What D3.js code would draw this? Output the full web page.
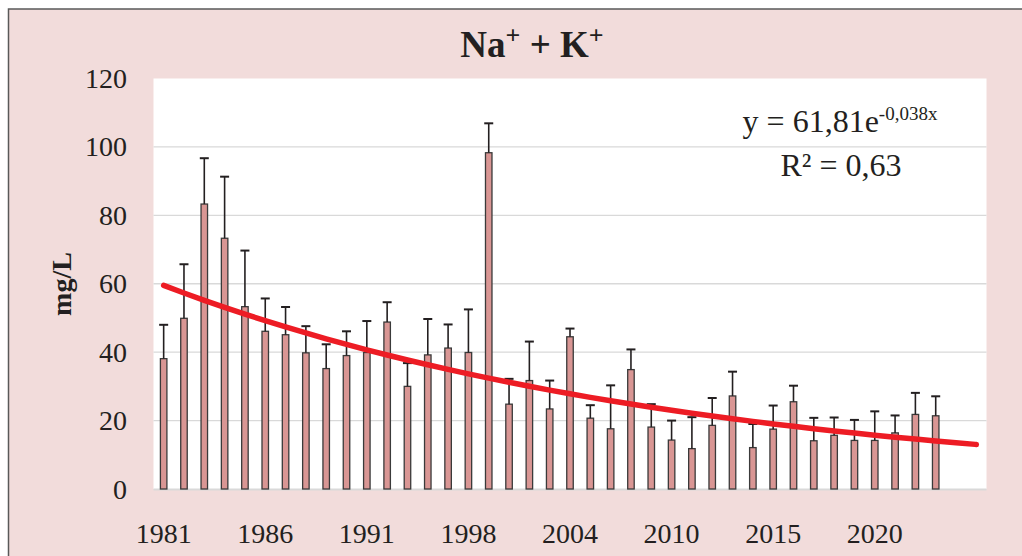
<!DOCTYPE html>
<html>
<head>
<meta charset="utf-8">
<script src="https://cdn.jsdelivr.net/npm/d3@7/dist/d3.min.js"></script>
<style>
  html, body { margin: 0; padding: 0; background: #ffffff; }
  svg { display: block; }
  text { font-family: "Liberation Serif", "Times New Roman", serif; fill: #231f20; }
</style>
</head>
<body>
<svg id="chart" width="1022" height="556"></svg>
<script>
// ---- data ----
const years = [
  "1981","1982","1983","1984","1985","1986","1987","1988","1989","1990",
  "1991","1992","1993","1995","1997","1998","1999","2000","2001","2002",
  "2004","2005","2006","2007","2008","2010","2011","2012","2013","2014",
  "2015","2016","2017","2018","2019","2020","2021","2022","2023","2024","2025"
];
const tickLabels = ["1981","1986","1991","1998","2004","2010","2015","2020"];
const meanValues = [
  38.1, 49.9, 83.3, 73.3, 53.3, 46.1, 45.1, 39.8, 35.2, 39.0,
  39.9, 48.8, 30.0, 39.2, 41.2, 39.9, 98.3, 24.8, 31.7, 23.4,
  44.5, 20.7, 17.6, 34.9, 18.1, 14.3, 11.8, 18.6, 27.2, 12.1,
  17.5, 25.5, 14.1, 15.7, 14.2, 14.2, 16.4, 21.8, 21.4, null, null
];
const upperValues = [
  48.0, 65.7, 96.7, 91.3, 69.7, 55.7, 53.2, 47.6, 42.3, 46.1,
  49.1, 54.6, 36.8, 49.7, 48.1, 52.5, 106.9, 32.2, 43.1, 31.7,
  46.9, 24.5, 30.3, 40.8, 24.8, 20.0, 21.0, 26.6, 34.3, 19.0,
  24.4, 30.2, 20.8, 20.9, 20.2, 22.7, 21.5, 28.1, 27.1, null, null
];
const yTicks = [0, 20, 40, 60, 80, 100, 120];
const trendA = 61.81, trendB = -0.038;   // y = 61,81 e^(-0,038x)

// ---- layout ----
const svg = d3.select("#chart");
const pLeft = 153.5, pRight = 986.5, pTop = 78.5, pBottom = 489;

// background panel
svg.append("rect").attr("x", 8.5).attr("y", 9).attr("width", 1040).attr("height", 600)
  .attr("fill", "#f2dcdb").attr("stroke", "#595959").attr("stroke-width", 1.5);

// plot area
svg.append("rect").attr("x", pLeft).attr("y", pTop).attr("width", pRight - pLeft).attr("height", pBottom - pTop)
  .attr("fill", "#ffffff");

const x = d3.scaleBand().domain(years).range([pLeft, pRight]).paddingInner(0).paddingOuter(0);
const y = d3.scaleLinear().domain([0, 120]).range([pBottom, pTop]);

// gridlines
svg.append("g").selectAll("line").data(yTicks.filter(d => d > 0 && d < 120)).join("line")
  .attr("x1", pLeft).attr("x2", pRight)
  .attr("y1", d => y(d)).attr("y2", d => y(d))
  .attr("stroke", "#d9d9d9").attr("stroke-width", 1.4);
svg.append("line").attr("x1", pLeft).attr("x2", pRight).attr("y1", y(0) + 0.5).attr("y2", y(0) + 0.5)
  .attr("stroke", "#d9d9d9").attr("stroke-width", 2);

// y tick labels
svg.append("g").selectAll("text").data(yTicks).join("text")
  .attr("x", 127).attr("y", d => y(d)).attr("dy", "0.34em")
  .attr("text-anchor", "end").attr("font-size", 28).text(d => d);

// x labels
svg.append("g").selectAll("text").data(tickLabels).join("text")
  .attr("x", d => x(d) + x.bandwidth() / 2).attr("y", 543)
  .attr("text-anchor", "middle").attr("font-size", 28).text(d => d);

// bars
const barW = 6.5;
const rows = years.map((yr, i) => ({ yr, v: meanValues[i], up: upperValues[i], i }));
const withData = rows.filter(d => d.v != null);
svg.append("g").selectAll("rect").data(withData).join("rect")
  .attr("x", d => x(d.yr) + x.bandwidth() / 2 - barW / 2)
  .attr("width", barW)
  .attr("y", d => y(d.v))
  .attr("height", d => y(0) - y(d.v))
  .attr("fill", "#d99694").attr("stroke", "#3a3a3a").attr("stroke-width", 1.3);

// error bars
const eg = svg.append("g").attr("stroke", "#231f20").attr("stroke-width", 1.6);
eg.selectAll("line.v").data(withData).join("line").attr("class", "v")
  .attr("x1", d => x(d.yr) + x.bandwidth() / 2).attr("x2", d => x(d.yr) + x.bandwidth() / 2)
  .attr("y1", d => y(d.v)).attr("y2", d => y(d.up));
eg.selectAll("line.c").data(withData).join("line").attr("class", "c")
  .attr("x1", d => x(d.yr) + x.bandwidth() / 2 - 4.5).attr("x2", d => x(d.yr) + x.bandwidth() / 2 + 4.5)
  .attr("y1", d => y(d.up)).attr("y2", d => y(d.up)).attr("stroke-width", 2);

// trend line (from displayed equation)
const trend = years.map((yr, i) => ({ yr, t: trendA * Math.exp(trendB * (i + 1)) }));
svg.append("path").datum(trend)
  .attr("d", d3.line().x(d => x(d.yr) + x.bandwidth() / 2).y(d => y(d.t)).curve(d3.curveMonotoneX))
  .attr("fill", "none").attr("stroke", "#ed1c24").attr("stroke-width", 5.5).attr("stroke-linecap", "round");

// equation
const eq = svg.append("text").attr("x", 840).attr("y", 131.5).attr("text-anchor", "middle").attr("font-size", 32);
eq.append("tspan").text("y = 61,81e");
eq.append("tspan").attr("font-size", 19).attr("dy", -12).text("-0,038x");
svg.append("text").attr("x", 841).attr("y", 176).attr("text-anchor", "middle").attr("font-size", 32).text("R² = 0,63");

// title
const tt = svg.append("text").attr("x", 532).attr("y", 57).attr("text-anchor", "middle")
  .attr("font-size", 37).attr("font-weight", "bold");
tt.append("tspan").text("Na");
tt.append("tspan").attr("font-size", 26).attr("dy", -13).text("+");
tt.append("tspan").attr("dy", 13).text(" + K");
tt.append("tspan").attr("font-size", 26).attr("dy", -13).text("+");

// y-axis title
svg.append("text").attr("transform", "translate(71,284) rotate(-90)")
  .attr("text-anchor", "middle").attr("font-size", 28).attr("font-weight", "bold").text("mg/L");
</script>
</body>
</html>
